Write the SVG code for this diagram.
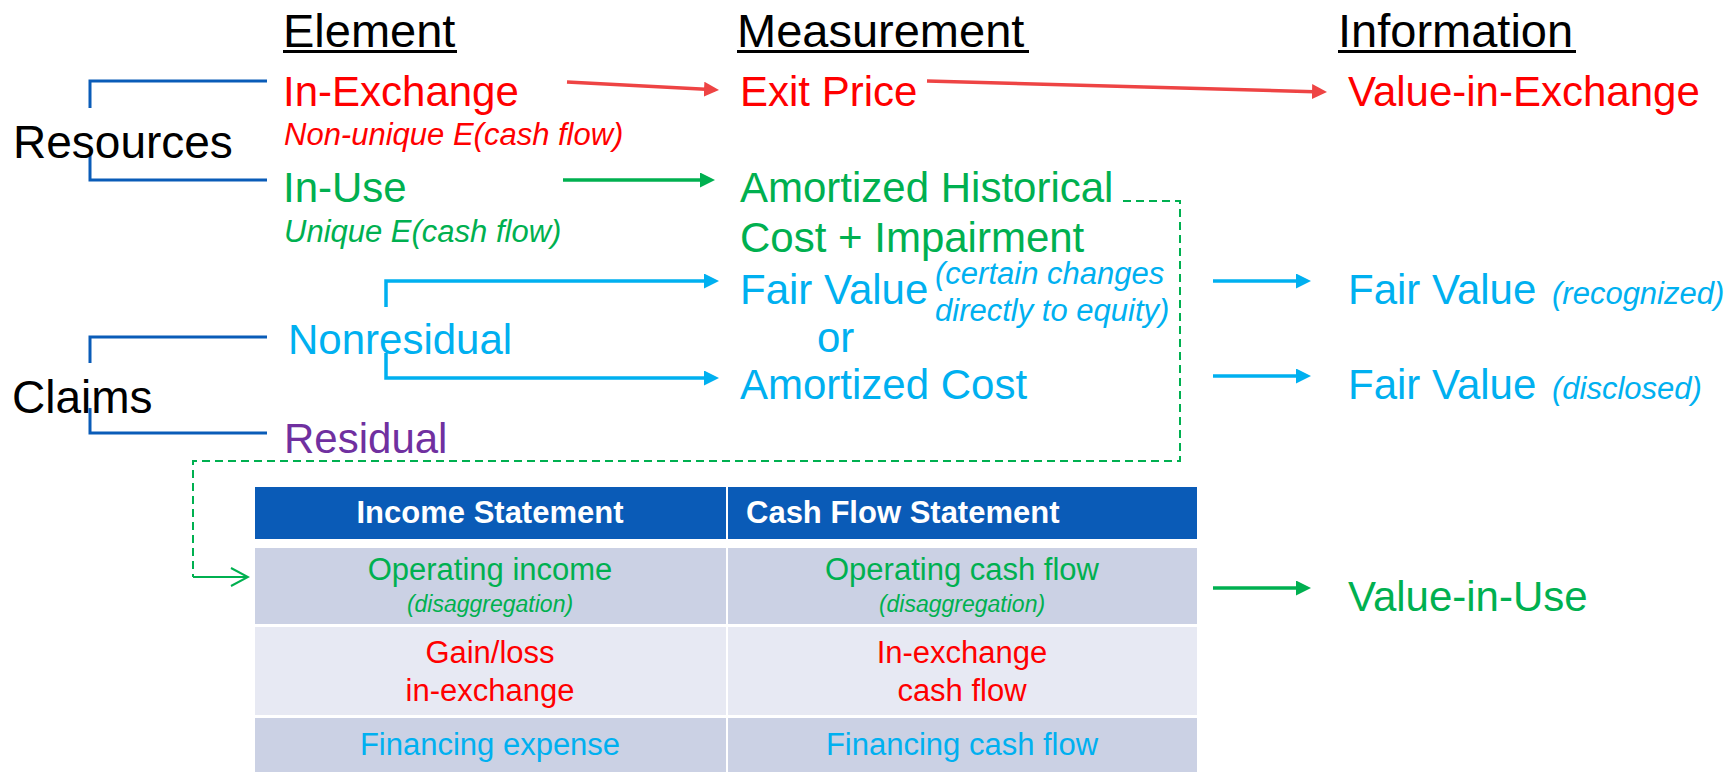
<svg xmlns="http://www.w3.org/2000/svg" width="1731" height="772" viewBox="0 0 1731 772">
<style>
text{font-family:"Liberation Sans",Arial,sans-serif}
.hd{font-size:47px;fill:#000}
.lab{font-size:46px;fill:#000}
.b{font-size:42px}
.it{font-size:31px;font-style:italic}
.red{fill:#FF0000}
.grn{fill:#00B050}
.blu{fill:#00B0F0}
.pur{fill:#7030A0}
.th{font-size:31px;font-weight:bold;fill:#fff}
.td{font-size:31px;text-anchor:middle}
.ts{font-size:23px;font-style:italic;text-anchor:middle}
.ul{stroke:#000;stroke-width:3}
.br{fill:none;stroke:#0A5CB8;stroke-width:3}
.cr{fill:none;stroke:#EE4444;stroke-width:3.5}
.cg{fill:none;stroke:#00B050;stroke-width:3.5}
.cb{fill:none;stroke:#00B0F0;stroke-width:3.5}
.dash{fill:none;stroke:#00B050;stroke-width:2;stroke-dasharray:8 5}
.hdr{fill:#0A5BB7}
.r1{fill:#CBD1E4}
.r2{fill:#E7E9F3}
</style>
<defs>
<marker id="aR" markerUnits="userSpaceOnUse" viewBox="0 0 15 15" markerWidth="15" markerHeight="15" refX="11" refY="7.5" orient="auto"><path d="M0,0 L15,7.5 L0,15 z" fill="#EE4444"/></marker>
<marker id="aG" markerUnits="userSpaceOnUse" viewBox="0 0 15 15" markerWidth="15" markerHeight="15" refX="11" refY="7.5" orient="auto"><path d="M0,0 L15,7.5 L0,15 z" fill="#00B050"/></marker>
<marker id="aB" markerUnits="userSpaceOnUse" viewBox="0 0 15 15" markerWidth="15" markerHeight="15" refX="11" refY="7.5" orient="auto"><path d="M0,0 L15,7.5 L0,15 z" fill="#00B0F0"/></marker>
<marker id="aO" markerUnits="userSpaceOnUse" viewBox="0 0 20 20" markerWidth="20" markerHeight="20" refX="18" refY="10" orient="auto"><path d="M1,1 L18,10 L1,19" fill="none" stroke="#00B050" stroke-width="2"/></marker>
</defs>
<rect width="1731" height="772" fill="#fff"/>

<g id="headers">
<text class="hd" x="283" y="47">Element</text>
<line class="ul" x1="283" y1="51.5" x2="457" y2="51.5"/>
<text class="hd" x="737" y="47">Measurement</text>
<line class="ul" x1="737" y1="51.5" x2="1029" y2="51.5"/>
<text class="hd" x="1338" y="47">Information</text>
<line class="ul" x1="1338" y1="51.5" x2="1576" y2="51.5"/>
</g>

<g id="resources">
<path class="br" d="M90,108 V81 H267"/>
<path class="br" d="M90,154 V180 H267"/>
<text class="lab" x="13" y="158">Resources</text>
</g>

<g id="claims">
<path class="br" d="M90,363 V337 H267"/>
<path class="br" d="M90,408 V433 H267"/>
<text class="lab" x="12" y="413">Claims</text>
</g>

<g id="in-exchange">
<text class="b red" x="283" y="106">In-Exchange</text>
<text class="it red" x="284" y="145">Non-unique E(cash flow)</text>
</g>
<g id="in-use">
<text class="b grn" x="283" y="202">In-Use</text>
<text class="it grn" x="284" y="242">Unique E(cash flow)</text>
</g>
<g id="nonresidual"><text class="b blu" x="288" y="354">Nonresidual</text></g>
<g id="residual"><text class="b pur" x="284" y="453">Residual</text></g>

<g id="exit-price"><text class="b red" x="740" y="106">Exit Price</text></g>
<g id="amortized-historical">
<text class="b grn" x="740" y="202">Amortized Historical</text>
<text class="b grn" x="740" y="252">Cost + Impairment</text>
</g>
<g id="fair-value">
<text class="b blu" x="740" y="304">Fair Value</text>
<text class="it blu" x="935" y="284">(certain changes</text>
<text class="it blu" x="935" y="321">directly to equity)</text>
<text class="b blu" x="817" y="352">or</text>
</g>
<g id="amortized-cost"><text class="b blu" x="740" y="399">Amortized Cost</text></g>

<g id="value-in-exchange"><text class="b red" x="1348" y="106">Value-in-Exchange</text></g>
<g id="fv-recognized">
<text class="b blu" x="1348" y="304">Fair Value</text>
<text class="it blu" x="1552" y="304">(recognized)</text>
</g>
<g id="fv-disclosed">
<text class="b blu" x="1348" y="399">Fair Value</text>
<text class="it blu" x="1552" y="399">(disclosed)</text>
</g>
<g id="value-in-use"><text class="b grn" x="1348" y="611">Value-in-Use</text></g>

<g id="table">
<rect class="hdr" x="255" y="487" width="471" height="52"/>
<rect class="hdr" x="728" y="487" width="469" height="52"/>
<rect class="r1" x="255" y="548" width="471" height="76"/>
<rect class="r1" x="728" y="548" width="469" height="76"/>
<rect class="r2" x="255" y="627" width="471" height="88"/>
<rect class="r2" x="728" y="627" width="469" height="88"/>
<rect class="r1" x="255" y="718" width="471" height="54"/>
<rect class="r1" x="728" y="718" width="469" height="54"/>
<text class="th" x="490" y="523" text-anchor="middle">Income Statement</text>
<text class="th" x="746" y="523">Cash Flow Statement</text>
<text class="td grn" x="490" y="580">Operating income</text>
<text class="ts grn" x="490" y="612">(disaggregation)</text>
<text class="td grn" x="962" y="580">Operating cash flow</text>
<text class="ts grn" x="962" y="612">(disaggregation)</text>
<text class="td red" x="490" y="663">Gain/loss</text>
<text class="td red" x="490" y="701">in-exchange</text>
<text class="td red" x="962" y="663">In-exchange</text>
<text class="td red" x="962" y="701">cash flow</text>
<text class="td blu" x="490" y="755">Financing expense</text>
<text class="td blu" x="962" y="755">Financing cash flow</text>
</g>

<g id="connectors">
<line class="cr" x1="567" y1="82" x2="715" y2="89.8" marker-end="url(#aR)"/>
<line class="cr" x1="927" y1="81" x2="1323" y2="91.9" marker-end="url(#aR)"/>
<line class="cg" x1="563" y1="180" x2="711" y2="180" marker-end="url(#aG)"/>
<path class="cb" d="M386,307 V281 H715" marker-end="url(#aB)"/>
<path class="cb" d="M386,353 V378 H715" marker-end="url(#aB)"/>
<line class="cb" x1="1213" y1="281" x2="1307" y2="281" marker-end="url(#aB)"/>
<line class="cb" x1="1213" y1="376" x2="1307" y2="376" marker-end="url(#aB)"/>
<line class="cg" x1="1213" y1="588" x2="1307" y2="588" marker-end="url(#aG)"/>
<path class="dash" d="M1123,201 H1180 V461 H193 V577"/>
<line x1="193" y1="577" x2="248" y2="577" stroke="#00B050" stroke-width="2" marker-end="url(#aO)"/>
</g>
</svg>
